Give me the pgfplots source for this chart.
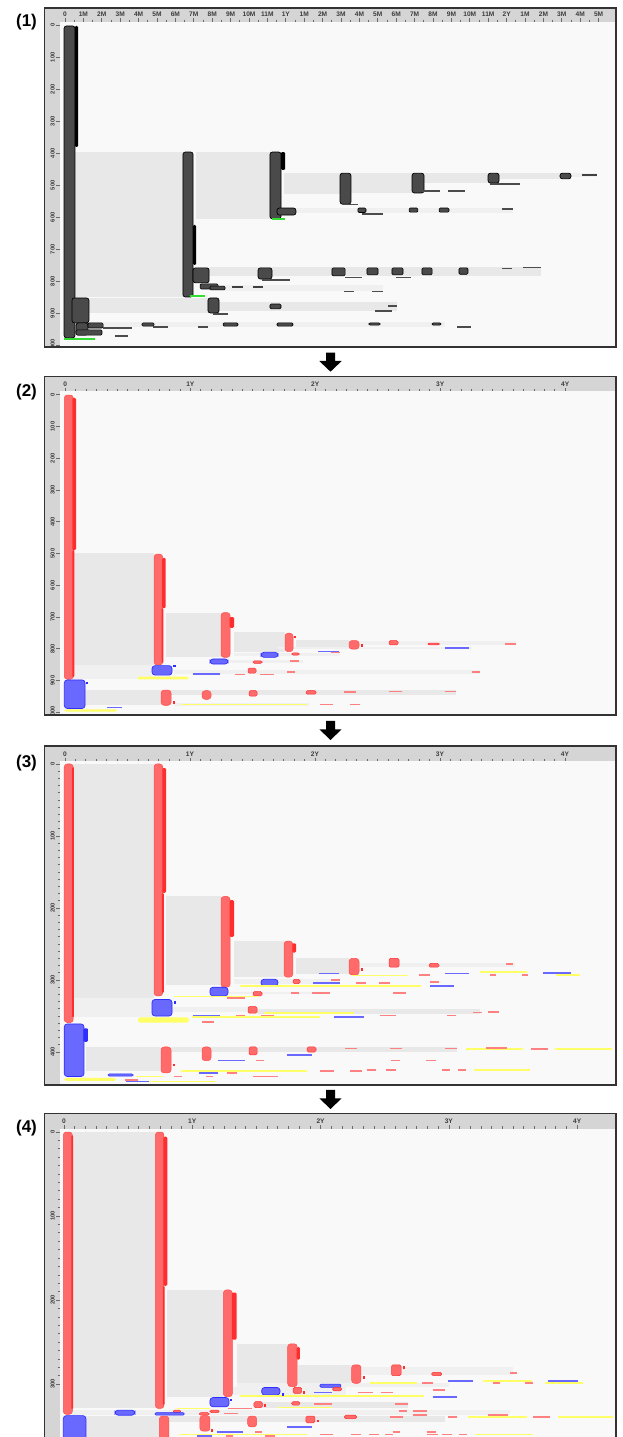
\documentclass[border=0pt]{standalone}
\usepackage{fontspec}
\setmainfont{Liberation Sans}
\setsansfont{Liberation Sans}
\usepackage{pgfplots}
\pgfplotsset{compat=1.18}

\definecolor{cBand}{HTML}{D5D5D5}
\definecolor{cBG}{HTML}{F9F9F9}
\definecolor{cSpan}{HTML}{E8E8E8}
\definecolor{cSpanL}{HTML}{F0F0F0}
\definecolor{cFrame}{HTML}{333333}
\definecolor{cTick}{HTML}{6A6A6A}
\definecolor{cTxt}{HTML}{3C3C3C}
\definecolor{cK}{HTML}{4A4A4A}
\definecolor{cRL}{HTML}{FF6B6B}
\definecolor{cRD}{HTML}{FF2E2E}
\definecolor{cRT}{HTML}{FF8080}
\definecolor{cBL}{HTML}{6969FF}
\definecolor{cBD}{HTML}{2E2EFF}
\definecolor{cYL}{HTML}{FFFF66}
\definecolor{cGR}{HTML}{33DD33}

\tikzset{
  sp/.style={fill=cSpan,draw=none},
  spl/.style={fill=cSpanL,draw=none},
  kb/.style={fill=cK,draw=black,line width=0.35pt,rounded corners=1.2pt},
  kd/.style={fill=black,draw=none,rounded corners=0.6pt},
  ks/.style={fill=cK,draw=black,line width=0.3pt,rounded corners=0.6pt},
  kl/.style={draw=black!75,line width=1.1pt},
  kt/.style={draw=black!70,line width=0.6pt},
  gl/.style={draw=cGR,line width=0.9pt},
  rb/.style={fill=cRL,draw=cRD!50!cRL,line width=0.25pt,rounded corners=1.5pt},
  rd/.style={fill=cRD,draw=none,rounded corners=0.6pt},
  rs/.style={fill=cRL,draw=cRD,line width=0.25pt,rounded corners=0.7pt},
  bb/.style={fill=cBL,draw=cBD,line width=0.35pt,rounded corners=1.5pt},
  bs/.style={fill=cBL,draw=cBD,line width=0.25pt,rounded corners=0.6pt},
  bdk/.style={fill=cBD,draw=none,rounded corners=0.6pt},
  yb/.style={fill=cYL,draw=none,rounded corners=0.8pt},
  rt/.style={draw=cRT,line width=0.8pt},
  bt/.style={draw=cBL,line width=0.8pt},
  yt/.style={draw=cYL,line width=0.8pt},
}

% box: style, x0, x1, y0, y1 ; line: style, x0, x1, y ; dot: colour, x, y
\newcommand{\bx}[5]{\addplot[#1] coordinates {(#2,#4) (#3,#4) (#3,#5) (#2,#5)} -- cycle;}
\newcommand{\hl}[4]{\addplot[#1] coordinates {(#2,#4) (#3,#4)};}
\newcommand{\dt}[3]{\addplot[only marks,mark=square*,mark size=0.4pt,color=#1] coordinates {(#2,#3)};}
\newcommand{\darr}[1]{\fill[black] (163pt,#1) -- ++(4.5pt,0) -- ++(0,-4.15pt) -- ++(3.35pt,0)
  -- ++(-5.6pt,-5.35pt) -- ++(-5.6pt,5.35pt) -- ++(3.35pt,0) -- cycle;}

\pgfplotsset{
  panel/.style={
    scale only axis, width=277.5pt, anchor=north west,
    y dir=reverse, axis line style={draw=none},
    axis background/.style={fill=cBG},
    tick align=outside,
    xtick pos=right, xticklabel pos=right,
    ytick pos=left, yticklabel pos=left,
    major tick length=1.8pt, minor tick length=1.2pt,
    tick style={cTick,line width=0.35pt},
    xticklabel style={font=\fontsize{3.3}{4}\selectfont\bfseries,text=cTxt,inner sep=0.6pt,anchor=south},
    yticklabel style={font=\fontsize{2.9}{3.5}\selectfont\bfseries,text=cTxt,rotate=90,inner sep=0.6pt,anchor=south},
  },
  yrs/.style={xtick={0,1,2,3,4},xticklabels={0,1Y,2Y,3Y,4Y},minor x tick num=11},
}

\begin{document}
\begin{tikzpicture}
\useasboundingbox (0,0) rectangle (311pt,718.5pt);

% ---------------- panel 1 ----------------
\fill[cBand] (22.25pt,545pt) rectangle (308pt,714.5pt);
\begin{scope}
\clip (22.25pt,545pt) rectangle (308pt,714.5pt);
\begin{axis}[panel, at={(30pt,707.5pt)}, height=162.5pt,
  xmin=-0.272, xmax=29.89, ymin=-10.3, ymax=1005.3,
  xtick={0,...,29},
  xticklabels={0,1M,2M,3M,4M,5M,6M,7M,8M,9M,10M,11M,1Y,1M,2M,3M,4M,5M,6M,7M,8M,9M,10M,11M,2Y,1M,2M,3M,4M,5M},
  minor x tick num=1,
  ytick={0,100,200,300,400,500,600,700,800,900,1000},
  yticklabels={0,100,200,300,400,500,600,700,800,900,1000}]
\bx{sp}{0.54}{6.41}{396}{849}
\bx{sp}{7.12}{11.14}{396}{605}
\bx{sp}{11.90}{14.95}{462}{527}
\bx{sp}{15.54}{18.86}{462}{524}
\bx{sp}{19.51}{22.99}{462}{493}
\bx{sp}{23.59}{26.90}{462}{480}
\bx{spl}{27.5}{28.9}{462}{474}
\bx{spl}{11.85}{24.35}{571}{587}
\bx{sp}{7.83}{25.87}{755}{783}
\bx{spl}{7.83}{17.3}{812}{830}
\bx{sp}{1.30}{7.77}{852}{899}
\bx{sp}{8.32}{18.04}{865}{893}
\bx{spl}{1.30}{20.65}{927}{943}
\bx{kb}{-0.05}{0.54}{2}{977}
\bx{kd}{0.54}{0.71}{2}{380}
\bx{kb}{6.41}{6.96}{396}{849}
\bx{kd}{6.96}{7.12}{624}{749}
\bx{kb}{11.14}{11.74}{396}{605}
\bx{kd}{11.74}{11.96}{396}{452}
\bx{kb}{11.52}{12.55}{571}{593}
\bx{kb}{14.95}{15.54}{462}{559}
\bx{kb}{18.86}{19.51}{462}{524}
\bx{kb}{22.99}{23.59}{462}{493}
\bx{kb}{26.90}{27.50}{462}{480}
\hl{kl}{28.10}{28.91}{468}
\hl{kt}{19.46}{20.38}{518}
\hl{kt}{20.82}{21.74}{518}
\hl{kt}{23.10}{24.73}{496}
\hl{kt}{15.11}{15.92}{560}
\bx{ks}{15.92}{16.36}{571}{585}
\bx{ks}{18.70}{19.18}{571}{584}
\bx{ks}{20.33}{20.87}{571}{584}
\hl{kt}{23.75}{24.35}{574}
\hl{kt}{16.14}{17.28}{590}
\bx{kb}{10.49}{11.25}{758}{793}
\bx{ks}{14.51}{15.22}{758}{783}
\bx{ks}{16.41}{17.01}{758}{780}
\bx{ks}{17.77}{18.37}{758}{780}
\bx{ks}{19.40}{19.95}{758}{780}
\bx{ks}{21.41}{21.90}{758}{778}
\hl{kt}{23.75}{24.29}{761}
\hl{kt}{24.89}{25.87}{758}
\hl{kt}{15.22}{16.14}{787}
\hl{kt}{17.99}{18.80}{787}
\hl{kt}{10.71}{12.23}{796}
\bx{kb}{6.96}{7.83}{758}{805}
\bx{ks}{7.34}{8.32}{808}{824}
\bx{ks}{7.88}{8.70}{815}{827}
\hl{kl}{9.08}{9.67}{818}
\hl{kl}{10.22}{10.76}{818}
\hl{kt}{15.16}{15.71}{833}
\hl{kt}{16.68}{17.28}{833}
\bx{kb}{7.77}{8.37}{852}{899}
\hl{kt}{8.04}{8.86}{902}
\bx{ks}{11.14}{11.74}{871}{886}
\hl{kt}{17.55}{18.04}{877}
\hl{kt}{16.85}{17.77}{893}
\bx{kb}{0.38}{1.30}{852}{930}
\bx{kb}{0.60}{1.25}{930}{968}
\bx{ks}{1.25}{2.07}{930}{946}
\hl{kt}{2.07}{3.64}{946}
\bx{ks}{0.60}{2.01}{952}{968}
\hl{kt}{2.72}{3.42}{971}
\bx{ks}{4.18}{4.84}{930}{940}
\bx{ks}{8.59}{9.40}{930}{940}
\bx{ks}{11.52}{12.39}{930}{940}
\bx{ks}{16.52}{17.12}{930}{937}
\bx{ks}{19.95}{20.43}{930}{937}
\hl{kt}{4.78}{5.60}{943}
\hl{kt}{7.23}{7.77}{943}
\hl{kt}{21.30}{22.07}{943}
\hl{gl}{-0.05}{1.63}{980}
\hl{gl}{11.25}{11.96}{605}
\hl{gl}{6.79}{7.61}{845}
\end{axis}
\end{scope}
\draw[cFrame,line width=0.65pt] (22.25pt,545pt) rectangle (308pt,714.5pt);
\node[font=\fontsize{8.5}{10}\selectfont\bfseries] at (13.25pt,707.5pt) {(1)};
\darr{542.15pt}

% ---------------- panel 2 ----------------
\fill[cBand] (22.25pt,361pt) rectangle (308pt,530.15pt);
\begin{scope}
\clip (22.25pt,361pt) rectangle (308pt,530.15pt);
\begin{axis}[panel, yrs, at={(30pt,522.85pt)}, height=161.85pt,
  xmin=-0.0424, xmax=4.398, ymin=-10.7, ymax=1008.5,
  ytick={0,100,200,300,400,500,600,700,800,900,1000},
  yticklabels={0,100,200,300,400,500,600,700,800,900,1000}]
\bx{sp}{0.064}{0.710}{499}{851}
\bx{spl}{0.064}{0.694}{851}{896}
\bx{sp}{0.803}{1.246}{686}{827}
\bx{sp}{1.350}{1.758}{747}{809}
\bx{sp}{1.846}{2.270}{772}{801}
\bx{spl}{2.350}{3.606}{776}{788}
\bx{spl}{1.70}{3.25}{795}{800}
\bx{spl}{1.35}{2.20}{812}{822}
\bx{spl}{1.30}{1.90}{836}{846}
\bx{spl}{0.87}{3.32}{866}{880}
\bx{sp}{0.158}{0.766}{930}{978}
\bx{sp}{0.846}{3.126}{930}{946}
\bx{spl}{0.87}{1.95}{970}{980}
\bx{rb}{-0.008}{0.064}{1}{896}
\bx{rd}{0.056}{0.086}{10}{489}
\bx{rd}{0.056}{0.072}{489}{890}
\bx{rb}{0.710}{0.779}{502}{851}
\bx{rd}{0.775}{0.803}{514}{672}
\bx{rd}{0.770}{0.785}{672}{845}
\bx{rb}{1.246}{1.318}{686}{827}
\bx{rd}{1.314}{1.350}{700}{734}
\bx{rb}{1.758}{1.822}{751}{809}
\dt{cRD}{1.838}{762}
\bx{rb}{2.270}{2.350}{774}{801}
\dt{cRD}{2.374}{790}
\bx{rs}{2.590}{2.662}{774}{788}
\bx{rs}{2.902}{2.990}{782}{788}
\hl{rt}{3.518}{3.606}{785}
\hl{bt}{3.038}{3.230}{797}
\hl{bt}{2.022}{2.190}{808}
\hl{rt}{2.126}{2.198}{812}
\bx{bb}{1.566}{1.702}{811}{827}
\bx{rs}{1.812}{1.870}{813}{820}
\bx{bb}{1.158}{1.302}{832}{848}
\bx{rs}{1.502}{1.574}{838}{846}
\hl{rt}{1.798}{1.870}{839}
\bx{bb}{0.694}{0.854}{853}{883}
\dt{cBD}{0.874}{854}
\bx{rs}{1.462}{1.526}{861}{877}
\hl{rt}{1.774}{1.838}{873}
\hl{rt}{3.254}{3.318}{873}
\hl{bt}{1.022}{1.238}{880}
\hl{rt}{1.358}{1.438}{881}
\hl{rt}{1.558}{1.670}{881}
\bx{yb}{0.574}{0.990}{888}{896}
\bx{bb}{-0.008}{0.158}{898}{988}
\dt{cBD}{0.174}{908}
\bx{rb}{0.766}{0.846}{930}{978}
\dt{cRD}{0.870}{968}
\bx{rb}{1.094}{1.166}{932}{959}
\bx{rs}{1.470}{1.534}{932}{949}
\bx{rs}{1.926}{2.006}{932}{943}
\hl{rt}{2.230}{2.326}{936}
\hl{rt}{2.590}{2.694}{934}
\hl{rt}{3.038}{3.126}{934}
\hl{yt}{0.926}{1.934}{976}
\hl{rt}{2.038}{2.142}{975}
\hl{rt}{2.278}{2.358}{975}
\hl{bt}{0.334}{0.454}{985}
\bx{yb}{-0.008}{0.414}{991}{998}
\end{axis}
\end{scope}
\draw[cFrame,line width=0.65pt] (22.25pt,361pt) rectangle (308pt,530.15pt);
\node[font=\fontsize{8.5}{10}\selectfont\bfseries] at (13.25pt,522.65pt) {(2)};
\darr{358pt}

% ---------------- panel 3 ----------------
\fill[cBand] (22.25pt,176pt) rectangle (308pt,345.5pt);
\begin{scope}
\clip (22.25pt,176pt) rectangle (308pt,345.5pt);
\begin{axis}[panel, yrs, at={(30pt,337.85pt)}, height=161.85pt,
  xmin=-0.04, xmax=4.4, ymin=-3.75, ymax=445.8,
  ytick={0,100,200,300,400}, yticklabels={0,100,200,300,400},
  minor y tick num=9]
\bx{sp}{0.066}{0.712}{0}{325}
\bx{spl}{0.066}{0.70}{325}{352}
\bx{sp}{0.808}{1.248}{184}{307}
\bx{sp}{1.352}{1.752}{246}{296}
\bx{sp}{1.848}{2.272}{269}{292}
\bx{spl}{2.352}{3.6}{276}{282}
\bx{spl}{1.35}{2.2}{299}{305}
\bx{spl}{1.304}{2.0}{316}{320}
\bx{spl}{0.856}{1.5}{337}{345}
\bx{sp}{1.536}{3.32}{340}{347}
\bx{sp}{0.168}{0.768}{393}{427}
\bx{sp}{0.848}{3.136}{393}{400}
\bx{rb}{-0.006}{0.066}{0}{359}
\bx{rd}{0.058}{0.072}{4}{352}
\bx{rb}{0.712}{0.782}{0}{322}
\bx{rd}{0.778}{0.808}{5.6}{179}
\bx{rd}{0.775}{0.790}{179}{318}
\bx{rb}{1.248}{1.32}{184}{310}
\bx{rd}{1.316}{1.352}{189}{240}
\bx{rb}{1.752}{1.822}{246}{296}
\bx{rd}{1.818}{1.848}{249}{262}
\bx{rb}{2.272}{2.352}{270}{293}
\dt{cRD}{2.376}{285}
\bx{rs}{2.592}{2.672}{270}{282}
\bx{rs}{2.912}{2.992}{277}{282}
\hl{rt}{3.528}{3.584}{278}
\hl{bt}{2.032}{2.192}{291}
\hl{rt}{2.128}{2.2}{300}
\hl{bt}{3.04}{3.232}{291}
\hl{bt}{3.824}{4.048}{290}
\hl{yt}{3.32}{3.696}{289}
\hl{yt}{2.296}{2.744}{294}
\hl{rt}{2.832}{2.92}{293}
\hl{rt}{3.4}{3.448}{293}
\hl{rt}{3.656}{3.704}{293}
\hl{yt}{3.928}{4.12}{293}
\bx{bb}{1.568}{1.704}{299}{308}
\bx{rs}{1.824}{1.88}{299}{305}
\hl{bt}{1.984}{2.2}{304}
\hl{rt}{2.328}{2.408}{304}
\hl{rt}{2.512}{2.6}{304}
\hl{rt}{2.92}{2.992}{303}
\hl{yt}{1.4}{2.848}{308}
\hl{bt}{2.92}{3.112}{308}
\bx{bb}{1.16}{1.304}{310}{322}
\bx{rs}{1.504}{1.576}{316}{322}
\hl{rt}{1.808}{1.872}{318}
\hl{rt}{1.976}{2.12}{318}
\hl{rt}{2.624}{2.728}{318}
\hl{yt}{0.87}{1.54}{323}
\hl{rt}{1.296}{1.44}{325}
\bx{bb}{0.696}{0.856}{327}{350}
\dt{cBD}{0.88}{331}
\bx{rs}{1.464}{1.536}{337}{346}
\hl{rt}{1.776}{1.84}{345}
\hl{rt}{3.264}{3.336}{345}
\hl{rt}{3.384}{3.472}{344}
\hl{yt}{1.592}{2.312}{346}
\hl{bt}{1.024}{1.24}{349}
\hl{rt}{1.368}{1.44}{349}
\hl{rt}{1.568}{1.672}{349}
\hl{rt}{2.52}{2.648}{349}
\hl{rt}{3.056}{3.128}{349}
\hl{yt}{1.016}{2.04}{351}
\hl{bt}{2.152}{2.392}{351}
\bx{yb}{0.584}{0.992}{352}{359}
\hl{rt}{1.096}{1.192}{358}
\bx{bb}{-0.006}{0.152}{361}{434}
\bx{bdk}{0.148}{0.184}{367}{386}
\bx{rb}{0.768}{0.848}{393}{429}
\dt{cRD}{0.872}{418}
\bx{rb}{1.096}{1.168}{393}{412}
\bx{rs}{1.472}{1.536}{393}{404}
\bx{rs}{1.936}{2.008}{393}{400}
\hl{rt}{2.24}{2.336}{395}
\hl{rt}{2.6}{2.696}{395}
\hl{rt}{3.04}{3.136}{395}
\hl{yt}{3.208}{3.664}{396}
\hl{rt}{3.368}{3.536}{394}
\hl{rt}{3.728}{3.864}{396}
\hl{yt}{3.92}{4.376}{396}
\hl{bt}{1.776}{1.976}{404}
\hl{bt}{1.224}{1.44}{412}
\hl{rt}{1.528}{1.592}{412}
\hl{rt}{2.608}{2.68}{412}
\hl{rt}{2.888}{2.968}{412}
\hl{yt}{0.928}{1.936}{426}
\hl{rt}{2.04}{2.152}{426}
\hl{rt}{2.28}{2.376}{426}
\hl{rt}{2.416}{2.488}{425}
\hl{rt}{2.568}{2.648}{425}
\hl{rt}{3.016}{3.08}{425}
\hl{rt}{3.144}{3.208}{425}
\hl{yt}{3.272}{3.72}{425}
\hl{bt}{1.072}{1.224}{429}
\hl{rt}{1.296}{1.376}{429}
\bx{bs}{0.344}{0.544}{430.5}{433.5}
\hl{yt}{0.568}{0.784}{434}
\hl{rt}{0.872}{0.936}{434}
\hl{rt}{1.128}{1.184}{434}
\hl{rt}{1.504}{1.704}{434}
\bx{yb}{-0.006}{0.408}{436}{440}
\hl{rt}{0.48}{0.584}{439}
\hl{bt}{0.488}{0.672}{441}
\hl{yt}{0.672}{1.208}{441}
\end{axis}
\end{scope}
\draw[cFrame,line width=0.65pt] (22.25pt,176pt) rectangle (308pt,345.5pt);
\node[font=\fontsize{8.5}{10}\selectfont\bfseries] at (13.25pt,337pt) {(3)};
\darr{173.5pt}

% ---------------- panel 4 ----------------
\fill[cBand] (22.25pt,-8pt) rectangle (308pt,161.85pt);
\begin{scope}
\clip (22.25pt,-8pt) rectangle (308pt,161.85pt);
\begin{axis}[panel, yrs, at={(30pt,154.15pt)}, height=162.15pt,
  xmin=-0.031, xmax=4.295, ymin=-3.93, ymax=382,
  ytick={0,100,200,300}, yticklabels={0,100,200,300},
  minor y tick num=9]
\bx{sp}{0.062}{0.712}{0}{329}
\bx{sp}{0.805}{1.242}{188}{315}
\bx{sp}{1.346}{1.744}{252}{303}
\bx{sp}{1.824}{2.242}{277}{299}
\bx{spl}{2.315}{3.5}{280}{289}
\bx{spl}{1.35}{3.0}{299}{304}
\bx{spl}{1.30}{2.2}{304}{313}
\bx{sp}{1.546}{2.684}{321}{329}
\bx{spl}{0.062}{3.476}{331}{337}
\bx{sp}{0.171}{0.743}{338}{382}
\bx{sp}{0.818}{2.97}{338}{345}
\bx{rb}{-0.005}{0.065}{0}{336}
\bx{rd}{0.057}{0.071}{4}{330}
\bx{rb}{0.712}{0.779}{0}{329}
\bx{rd}{0.775}{0.805}{5.6}{183}
\bx{rd}{0.770}{0.785}{183}{325}
\bx{rb}{1.242}{1.312}{188}{315}
\bx{rd}{1.308}{1.346}{191}{247}
\bx{rb}{1.744}{1.818}{252}{303}
\bx{rd}{1.814}{1.839}{256}{271}
\bx{rb}{2.242}{2.315}{277}{299}
\dt{cRD}{2.338}{292}
\bx{rs}{2.554}{2.627}{277}{290}
\dt{cRD}{2.650}{280}
\bx{rs}{2.866}{2.944}{286}{290}
\hl{rt}{3.476}{3.528}{287}
\hl{bt}{2.995}{3.185}{296}
\hl{bt}{3.775}{4.009}{296}
\hl{yt}{3.266}{3.645}{296}
\hl{rt}{2.788}{2.878}{299}
\hl{rt}{3.344}{3.398}{299}
\hl{rt}{3.593}{3.658}{299}
\hl{yt}{3.749}{4.045}{299}
\hl{yt}{2.385}{2.749}{299}
\bx{bs}{1.995}{2.159}{300}{304}
\bx{rs}{2.094}{2.164}{304}{308}
\bx{bb}{1.541}{1.684}{304}{313}
\dt{cBD}{1.705}{312}
\bx{rs}{1.787}{1.853}{304}{311}
\dt{cRD}{1.871}{310}
\hl{rt}{2.878}{2.970}{307}
\hl{bt}{1.949}{2.087}{310}
\hl{rt}{2.294}{2.406}{310}
\hl{rt}{2.471}{2.567}{310}
\hl{yt}{1.372}{2.808}{314.5}
\hl{bt}{2.874}{3.061}{315}
\bx{bb}{1.138}{1.286}{316}{327}
\dt{cBD}{1.302}{319}
\bx{rs}{1.481}{1.546}{321}{328}
\dt{cRD}{1.567}{325}
\bx{rs}{1.775}{1.839}{321}{325}
\hl{rt}{1.949}{2.087}{324}
\hl{rt}{2.580}{2.684}{324}
\hl{yt}{0.878}{1.138}{329}
\hl{rt}{1.281}{1.463}{329}
\hl{yt}{1.670}{2.087}{328}
\bx{rs}{0.852}{0.910}{331}{334}
\bx{rs}{1.138}{1.210}{331}{334}
\hl{rt}{2.613}{2.676}{332}
\hl{rt}{2.723}{2.827}{332}
\bx{bs}{0.709}{0.938}{334}{337}
\bx{bb}{0.398}{0.553}{331}{337}
\bx{rs}{1.055}{1.132}{334}{337}
\hl{rt}{1.247}{1.354}{335}
\hl{rt}{2.723}{2.827}{337}
\bx{bb}{-0.005}{0.171}{337.5}{382}
\bx{rb}{0.743}{0.818}{338}{382}
\bx{rb}{1.060}{1.138}{337.5}{356}
\dt{cRD}{1.154}{355}
\bx{rb}{1.432}{1.502}{338}{351}
\bx{rs}{1.886}{1.956}{338}{346}
\dt{cRD}{1.980}{344}
\bx{rs}{2.185}{2.281}{337}{341}
\hl{rt}{2.541}{2.640}{339.5}
\hl{rt}{2.991}{3.066}{339.5}
\hl{yt}{3.151}{3.606}{339}
\hl{rt}{3.305}{3.461}{337}
\hl{rt}{3.658}{3.788}{339}
\hl{yt}{3.853}{4.281}{339}
\hl{bt}{1.740}{1.931}{351}
\hl{bt}{1.190}{1.398}{357}
\hl{rt}{1.489}{1.541}{357}
\hl{rt}{2.562}{2.619}{357}
\hl{rt}{2.827}{2.899}{357}
\hl{yt}{0.898}{1.892}{360}
\hl{rt}{1.995}{2.099}{360}
\hl{rt}{2.235}{2.313}{360}
\hl{rt}{2.380}{2.458}{360}
\hl{rt}{2.502}{2.567}{360}
\hl{rt}{2.827}{2.917}{360}
\hl{rt}{2.944}{3.022}{360}
\hl{rt}{3.081}{3.139}{360}
\hl{yt}{3.203}{3.653}{360}
\hl{bt}{1.034}{1.151}{362}
\hl{rt}{1.263}{1.320}{362}
\hl{rt}{1.567}{1.645}{362}
\end{axis}
\end{scope}
\draw[cFrame,line width=0.65pt] (22.25pt,-8pt) rectangle (308pt,161.85pt);
\node[font=\fontsize{8.5}{10}\selectfont\bfseries] at (13.25pt,154.25pt) {(4)};
\end{tikzpicture}
\end{document}
